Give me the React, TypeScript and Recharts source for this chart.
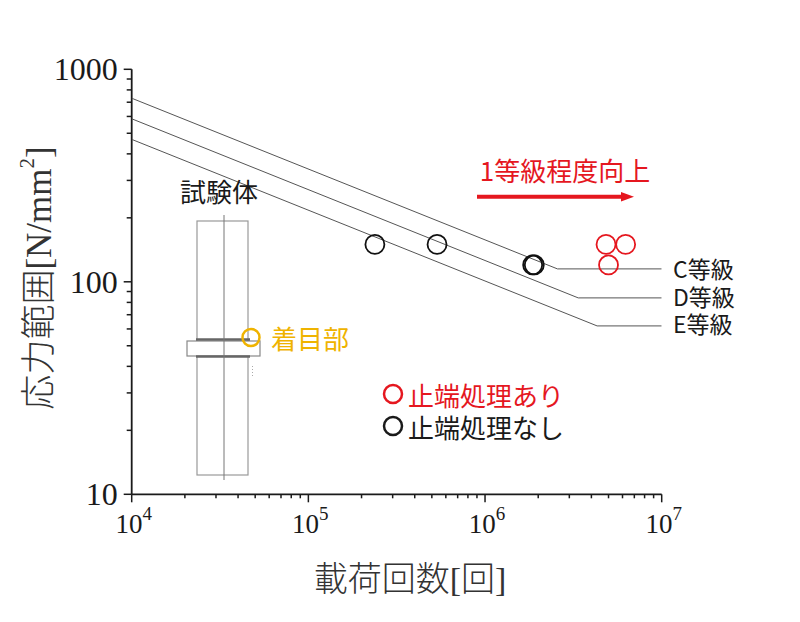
import React from "react";
import { Scatter, ScatterChart, XAxis, YAxis } from "recharts";

// load cycles (x) and stress range (y)
const cycleTicks = [
  1e4, 2e4, 3e4, 4e4, 5e4, 6e4, 7e4, 8e4, 9e4,
  1e5, 2e5, 3e5, 4e5, 5e5, 6e5, 7e5, 8e5, 9e5,
  1e6, 2e6, 3e6, 4e6, 5e6, 6e6, 7e6, 8e6, 9e6,
  1e7,
];
const cycleMajor = [1e4, 1e5, 1e6, 1e7];

const stressTicks = [
  10, 20, 30, 40, 50, 60, 70, 80, 90,
  100, 200, 300, 400, 500, 600, 700, 800, 900,
  1000,
];
const stressMajor = [10, 100, 1000];

// JSSC design curves
const classC = [
  { n: 1e4, s: 731 },
  { n: 2.57e6, s: 115 },
  { n: 1e7, s: 115 },
];
const classD = [
  { n: 1e4, s: 585 },
  { n: 3.37e6, s: 84 },
  { n: 1e7, s: 84 },
];
const classE = [
  { n: 1e4, s: 468 },
  { n: 4.31e6, s: 62 },
  { n: 1e7, s: 62 },
];

// test results
const untreated = [
  { n: 2.38e5, s: 150 },
  { n: 5.35e5, s: 150 },
  { n: 1.86e6, s: 120 },
  { n: 1.9e6, s: 120 },
];
const treated = [
  { n: 4.84e6, s: 150 },
  { n: 6.25e6, s: 150 },
  { n: 5.0e6, s: 120 },
];

const RED = "#E5171F";
const ORANGE = "#EFB300";
const INK = "#1a1a1a";
const SERIF = "'Liberation Serif', 'Times New Roman', serif";
const GOTHIC = "'Noto Sans CJK JP', 'Noto Sans', sans-serif";
const MIXED = "'Liberation Serif', 'Noto Sans CJK JP', serif";

const CycleTick = (props: any) => {
  const { x, y, payload } = props;
  const v = payload.value;
  const major = cycleMajor.includes(v);
  return (
    <g>
      <line x1={x} x2={x} y1={y} y2={y + (major ? 8 : 4)} stroke={INK} strokeWidth={1.5} />
      {major && (
        <text x={x + 2} y={y + 39} textAnchor="middle" fontFamily={SERIF} fontSize={27} fill={INK}>
          10
          <tspan dy={-13} fontSize={19}>
            {Math.round(Math.log10(v))}
          </tspan>
        </text>
      )}
    </g>
  );
};

const StressTick = (props: any) => {
  const { x, y, payload } = props;
  const v = payload.value;
  const major = stressMajor.includes(v);
  return (
    <g>
      <line x1={x - (major ? 8 : 5)} x2={x} y1={y} y2={y} stroke={INK} strokeWidth={1.5} />
      {major && (
        <text x={x - 14} y={y + 11} textAnchor="end" fontFamily={SERIF} fontSize={32} fill={INK}>
          {v}
        </text>
      )}
    </g>
  );
};

const ring = (color: string) => (props: any) =>
  <circle cx={props.cx} cy={props.cy} r={9.5} fill="none" stroke={color} strokeWidth={1.8} />;

const noDot = () => <g />;

const curveLine = { stroke: "#555", strokeWidth: 1 };

// specimen sketch and annotations
const Overlay = () => (
  <svg width={800} height={622} style={{ position: "absolute", left: 0, top: 0, pointerEvents: "none" }}>
    <g fontFamily={GOTHIC}>
      <text x={219} y={190} textAnchor="middle" dominantBaseline="central" fontSize={26} fill={INK}>
        試験体
      </text>
      <rect x={197} y={221} width={51} height={254} fill="none" stroke="#999" strokeWidth={1.2} />
      <rect x={187} y={341} width={73} height={15} fill="#fff" stroke="#888" strokeWidth={1.2} />
      <line x1={196} x2={250} y1={339.5} y2={339.5} stroke="#666" strokeWidth={2.5} />
      <line x1={196} x2={250} y1={356.5} y2={356.5} stroke="#666" strokeWidth={2.5} />
      <line x1={224} x2={224} y1={215} y2={480} stroke="#777" strokeWidth={1} />
      <line x1={252.5} x2={252.5} y1={366} y2={376} stroke="#aaa" strokeWidth={1} strokeDasharray="1 2" />
      <circle cx={251} cy={337.5} r={8.5} fill="none" stroke={ORANGE} strokeWidth={2.5} />
      <text x={271} y={337.5} dominantBaseline="central" fontSize={26} fill={ORANGE}>
        着目部
      </text>

      <text x={565} y={169} textAnchor="middle" dominantBaseline="central" fontSize={26} fill={RED}>
        1等級程度向上
      </text>
      <line x1={477} x2={624} y1={196.7} y2={196.7} stroke={RED} strokeWidth={4} />
      <polygon points="621,192 634,196.7 621,201.4" fill={RED} />

      <text x={673} y={268} dominantBaseline="central" fontSize={23} fill={INK}>
        C等級
      </text>
      <text x={673} y={296} dominantBaseline="central" fontSize={23} fill={INK}>
        D等級
      </text>
      <text x={673} y={323} dominantBaseline="central" fontSize={23} fill={INK}>
        E等級
      </text>

      <circle cx={393} cy={394} r={9} fill="none" stroke={RED} strokeWidth={2.5} />
      <text x={408} y={394} dominantBaseline="central" fontSize={26} fill={RED}>
        止端処理あり
      </text>
      <circle cx={393} cy={426} r={9} fill="none" stroke={INK} strokeWidth={2.5} />
      <text x={408} y={426} dominantBaseline="central" fontSize={26} fill={INK}>
        止端処理なし
      </text>
    </g>

    <text x={410} y={579} textAnchor="middle" dominantBaseline="central" fontFamily={MIXED} fontWeight={300} fontSize={34} fill="#333">
      載荷回数[回]
    </text>
    <text
      x={39}
      y={278}
      transform="rotate(-90, 39, 278)"
      textAnchor="middle"
      dominantBaseline="central"
      fontFamily={MIXED}
      fontWeight={300}
      fontSize={35}
      fill="#333"
    >
      応力範囲[N/mm
      <tspan dy={-12} fontSize={21}>
        2
      </tspan>
      <tspan dy={12}>]</tspan>
    </text>
  </svg>
);

export default function App() {
  return (
    <div style={{ position: "absolute", left: 0, top: 0, width: 800, height: 622, background: "#fff" }}>
      <ScatterChart width={800} height={622} margin={{ top: 69.3, right: 138.3, bottom: 0, left: 0 }}>
        <XAxis
          type="number"
          dataKey="n"
          scale="log"
          domain={[1e4, 1e7]}
          allowDataOverflow
          ticks={cycleTicks}
          interval={0}
          tick={<CycleTick />}
          tickLine={false}
          tickSize={0}
          tickMargin={0}
          height={127.7}
          axisLine={{ stroke: INK, strokeWidth: 1.8 }}
        />
        <YAxis
          type="number"
          dataKey="s"
          scale="log"
          domain={[10, 1000]}
          allowDataOverflow
          ticks={stressTicks}
          interval={0}
          tick={<StressTick />}
          tickLine={false}
          tickSize={0}
          tickMargin={0}
          width={131.7}
          axisLine={{ stroke: INK, strokeWidth: 1.8 }}
        />
        <Scatter data={classC} line={curveLine} shape={noDot} isAnimationActive={false} />
        <Scatter data={classD} line={curveLine} shape={noDot} isAnimationActive={false} />
        <Scatter data={classE} line={curveLine} shape={noDot} isAnimationActive={false} />
        <Scatter data={untreated} shape={ring("#111")} isAnimationActive={false} />
        <Scatter data={treated} shape={ring(RED)} isAnimationActive={false} />
      </ScatterChart>
      <Overlay />
    </div>
  );
}
